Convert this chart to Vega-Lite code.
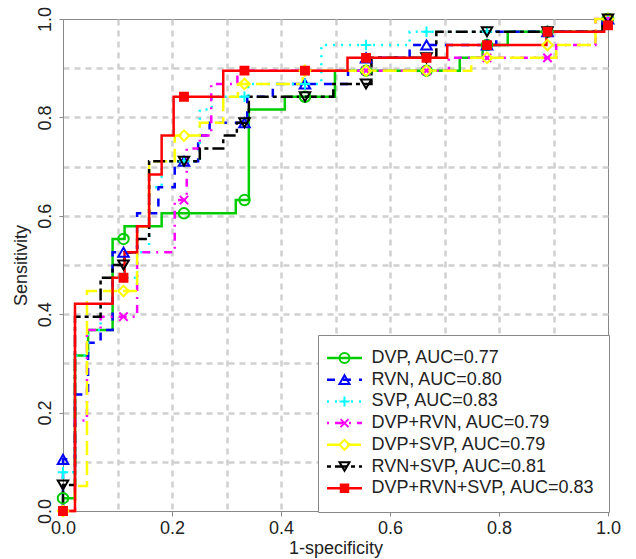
{
  "$schema": "https://vega.github.io/schema/vega-lite/v6.json",
  "width": 545,
  "height": 492,
  "autosize": {"type": "none"},
  "padding": {"left": 63, "top": 19, "right": 28, "bottom": 48},
  "background": "white",
  "config": {
    "view": {"stroke": "#888888", "strokeWidth": 1},
    "font": "Liberation Sans",
    "axis": {
      "labelFont": "Liberation Sans", "labelFontSize": 18, "labelColor": "#222222",
      "titleFont": "Liberation Sans", "titleFontSize": 18, "titleFontWeight": "normal", "titleColor": "#222222",
      "domainColor": "#888888", "tickColor": "#888888", "gridColor": "#d0d0d0", "gridDash": [6, 5], "gridWidth": 2.5,
      "labelOverlap": false, "labelFlush": false
    }
  },
  "datasets": {
    "curves": [
      {"series": "DVP, AUC=0.77", "i": 0, "x": 0, "y": 0},
      {"series": "DVP, AUC=0.77", "i": 1, "x": 0, "y": 0.026},
      {"series": "DVP, AUC=0.77", "i": 2, "x": 0.022, "y": 0.026},
      {"series": "DVP, AUC=0.77", "i": 3, "x": 0.022, "y": 0.316},
      {"series": "DVP, AUC=0.77", "i": 4, "x": 0.046, "y": 0.316},
      {"series": "DVP, AUC=0.77", "i": 5, "x": 0.046, "y": 0.368},
      {"series": "DVP, AUC=0.77", "i": 6, "x": 0.091, "y": 0.368},
      {"series": "DVP, AUC=0.77", "i": 7, "x": 0.091, "y": 0.553},
      {"series": "DVP, AUC=0.77", "i": 8, "x": 0.113, "y": 0.553},
      {"series": "DVP, AUC=0.77", "i": 9, "x": 0.113, "y": 0.579},
      {"series": "DVP, AUC=0.77", "i": 10, "x": 0.181, "y": 0.579},
      {"series": "DVP, AUC=0.77", "i": 11, "x": 0.181, "y": 0.605},
      {"series": "DVP, AUC=0.77", "i": 12, "x": 0.317, "y": 0.605},
      {"series": "DVP, AUC=0.77", "i": 13, "x": 0.317, "y": 0.632},
      {"series": "DVP, AUC=0.77", "i": 14, "x": 0.341, "y": 0.632},
      {"series": "DVP, AUC=0.77", "i": 15, "x": 0.341, "y": 0.816},
      {"series": "DVP, AUC=0.77", "i": 16, "x": 0.407, "y": 0.816},
      {"series": "DVP, AUC=0.77", "i": 17, "x": 0.407, "y": 0.842},
      {"series": "DVP, AUC=0.77", "i": 18, "x": 0.499, "y": 0.842},
      {"series": "DVP, AUC=0.77", "i": 19, "x": 0.499, "y": 0.895},
      {"series": "DVP, AUC=0.77", "i": 20, "x": 0.728, "y": 0.895},
      {"series": "DVP, AUC=0.77", "i": 21, "x": 0.728, "y": 0.921},
      {"series": "DVP, AUC=0.77", "i": 22, "x": 0.77, "y": 0.921},
      {"series": "DVP, AUC=0.77", "i": 23, "x": 0.77, "y": 0.947},
      {"series": "DVP, AUC=0.77", "i": 24, "x": 0.816, "y": 0.947},
      {"series": "DVP, AUC=0.77", "i": 25, "x": 0.816, "y": 0.974},
      {"series": "DVP, AUC=0.77", "i": 26, "x": 0.99, "y": 0.974},
      {"series": "DVP, AUC=0.77", "i": 27, "x": 0.99, "y": 1},
      {"series": "DVP, AUC=0.77", "i": 28, "x": 1, "y": 1},

      {"series": "RVN, AUC=0.80", "i": 0, "x": 0, "y": 0},
      {"series": "RVN, AUC=0.80", "i": 1, "x": 0, "y": 0.105},
      {"series": "RVN, AUC=0.80", "i": 2, "x": 0.022, "y": 0.105},
      {"series": "RVN, AUC=0.80", "i": 3, "x": 0.022, "y": 0.237},
      {"series": "RVN, AUC=0.80", "i": 4, "x": 0.046, "y": 0.237},
      {"series": "RVN, AUC=0.80", "i": 5, "x": 0.046, "y": 0.342},
      {"series": "RVN, AUC=0.80", "i": 6, "x": 0.069, "y": 0.342},
      {"series": "RVN, AUC=0.80", "i": 7, "x": 0.069, "y": 0.368},
      {"series": "RVN, AUC=0.80", "i": 8, "x": 0.091, "y": 0.368},
      {"series": "RVN, AUC=0.80", "i": 9, "x": 0.091, "y": 0.526},
      {"series": "RVN, AUC=0.80", "i": 10, "x": 0.136, "y": 0.526},
      {"series": "RVN, AUC=0.80", "i": 11, "x": 0.136, "y": 0.605},
      {"series": "RVN, AUC=0.80", "i": 12, "x": 0.175, "y": 0.605},
      {"series": "RVN, AUC=0.80", "i": 13, "x": 0.175, "y": 0.658},
      {"series": "RVN, AUC=0.80", "i": 14, "x": 0.205, "y": 0.658},
      {"series": "RVN, AUC=0.80", "i": 15, "x": 0.205, "y": 0.711},
      {"series": "RVN, AUC=0.80", "i": 16, "x": 0.248, "y": 0.711},
      {"series": "RVN, AUC=0.80", "i": 17, "x": 0.248, "y": 0.763},
      {"series": "RVN, AUC=0.80", "i": 18, "x": 0.269, "y": 0.763},
      {"series": "RVN, AUC=0.80", "i": 19, "x": 0.269, "y": 0.789},
      {"series": "RVN, AUC=0.80", "i": 20, "x": 0.338, "y": 0.789},
      {"series": "RVN, AUC=0.80", "i": 21, "x": 0.338, "y": 0.842},
      {"series": "RVN, AUC=0.80", "i": 22, "x": 0.385, "y": 0.842},
      {"series": "RVN, AUC=0.80", "i": 23, "x": 0.385, "y": 0.868},
      {"series": "RVN, AUC=0.80", "i": 24, "x": 0.523, "y": 0.868},
      {"series": "RVN, AUC=0.80", "i": 25, "x": 0.523, "y": 0.895},
      {"series": "RVN, AUC=0.80", "i": 26, "x": 0.55, "y": 0.895},
      {"series": "RVN, AUC=0.80", "i": 27, "x": 0.55, "y": 0.921},
      {"series": "RVN, AUC=0.80", "i": 28, "x": 0.636, "y": 0.921},
      {"series": "RVN, AUC=0.80", "i": 29, "x": 0.636, "y": 0.947},
      {"series": "RVN, AUC=0.80", "i": 30, "x": 0.795, "y": 0.947},
      {"series": "RVN, AUC=0.80", "i": 31, "x": 0.795, "y": 0.974},
      {"series": "RVN, AUC=0.80", "i": 32, "x": 0.99, "y": 0.974},
      {"series": "RVN, AUC=0.80", "i": 33, "x": 0.99, "y": 1},
      {"series": "RVN, AUC=0.80", "i": 34, "x": 1, "y": 1},

      {"series": "SVP, AUC=0.83", "i": 0, "x": 0, "y": 0},
      {"series": "SVP, AUC=0.83", "i": 1, "x": 0, "y": 0.079},
      {"series": "SVP, AUC=0.83", "i": 2, "x": 0.022, "y": 0.079},
      {"series": "SVP, AUC=0.83", "i": 3, "x": 0.022, "y": 0.316},
      {"series": "SVP, AUC=0.83", "i": 4, "x": 0.046, "y": 0.316},
      {"series": "SVP, AUC=0.83", "i": 5, "x": 0.046, "y": 0.368},
      {"series": "SVP, AUC=0.83", "i": 6, "x": 0.069, "y": 0.368},
      {"series": "SVP, AUC=0.83", "i": 7, "x": 0.069, "y": 0.421},
      {"series": "SVP, AUC=0.83", "i": 8, "x": 0.091, "y": 0.421},
      {"series": "SVP, AUC=0.83", "i": 9, "x": 0.091, "y": 0.474},
      {"series": "SVP, AUC=0.83", "i": 10, "x": 0.136, "y": 0.474},
      {"series": "SVP, AUC=0.83", "i": 11, "x": 0.136, "y": 0.526},
      {"series": "SVP, AUC=0.83", "i": 12, "x": 0.158, "y": 0.526},
      {"series": "SVP, AUC=0.83", "i": 13, "x": 0.158, "y": 0.658},
      {"series": "SVP, AUC=0.83", "i": 14, "x": 0.181, "y": 0.658},
      {"series": "SVP, AUC=0.83", "i": 15, "x": 0.181, "y": 0.711},
      {"series": "SVP, AUC=0.83", "i": 16, "x": 0.251, "y": 0.711},
      {"series": "SVP, AUC=0.83", "i": 17, "x": 0.251, "y": 0.816},
      {"series": "SVP, AUC=0.83", "i": 18, "x": 0.273, "y": 0.816},
      {"series": "SVP, AUC=0.83", "i": 19, "x": 0.273, "y": 0.842},
      {"series": "SVP, AUC=0.83", "i": 20, "x": 0.34, "y": 0.842},
      {"series": "SVP, AUC=0.83", "i": 21, "x": 0.34, "y": 0.868},
      {"series": "SVP, AUC=0.83", "i": 22, "x": 0.474, "y": 0.868},
      {"series": "SVP, AUC=0.83", "i": 23, "x": 0.474, "y": 0.947},
      {"series": "SVP, AUC=0.83", "i": 24, "x": 0.636, "y": 0.947},
      {"series": "SVP, AUC=0.83", "i": 25, "x": 0.636, "y": 0.974},
      {"series": "SVP, AUC=0.83", "i": 26, "x": 0.99, "y": 0.974},
      {"series": "SVP, AUC=0.83", "i": 27, "x": 0.99, "y": 1},
      {"series": "SVP, AUC=0.83", "i": 28, "x": 1, "y": 1},

      {"series": "DVP+RVN, AUC=0.79", "i": 0, "x": 0, "y": 0},
      {"series": "DVP+RVN, AUC=0.79", "i": 1, "x": 0.022, "y": 0},
      {"series": "DVP+RVN, AUC=0.79", "i": 2, "x": 0.022, "y": 0.184},
      {"series": "DVP+RVN, AUC=0.79", "i": 3, "x": 0.044, "y": 0.184},
      {"series": "DVP+RVN, AUC=0.79", "i": 4, "x": 0.044, "y": 0.368},
      {"series": "DVP+RVN, AUC=0.79", "i": 5, "x": 0.069, "y": 0.368},
      {"series": "DVP+RVN, AUC=0.79", "i": 6, "x": 0.069, "y": 0.395},
      {"series": "DVP+RVN, AUC=0.79", "i": 7, "x": 0.136, "y": 0.395},
      {"series": "DVP+RVN, AUC=0.79", "i": 8, "x": 0.136, "y": 0.526},
      {"series": "DVP+RVN, AUC=0.79", "i": 9, "x": 0.205, "y": 0.526},
      {"series": "DVP+RVN, AUC=0.79", "i": 10, "x": 0.205, "y": 0.632},
      {"series": "DVP+RVN, AUC=0.79", "i": 11, "x": 0.227, "y": 0.632},
      {"series": "DVP+RVN, AUC=0.79", "i": 12, "x": 0.227, "y": 0.737},
      {"series": "DVP+RVN, AUC=0.79", "i": 13, "x": 0.251, "y": 0.737},
      {"series": "DVP+RVN, AUC=0.79", "i": 14, "x": 0.251, "y": 0.763},
      {"series": "DVP+RVN, AUC=0.79", "i": 15, "x": 0.272, "y": 0.763},
      {"series": "DVP+RVN, AUC=0.79", "i": 16, "x": 0.272, "y": 0.868},
      {"series": "DVP+RVN, AUC=0.79", "i": 17, "x": 0.32, "y": 0.868},
      {"series": "DVP+RVN, AUC=0.79", "i": 18, "x": 0.32, "y": 0.895},
      {"series": "DVP+RVN, AUC=0.79", "i": 19, "x": 0.708, "y": 0.895},
      {"series": "DVP+RVN, AUC=0.79", "i": 20, "x": 0.708, "y": 0.921},
      {"series": "DVP+RVN, AUC=0.79", "i": 21, "x": 0.905, "y": 0.921},
      {"series": "DVP+RVN, AUC=0.79", "i": 22, "x": 0.905, "y": 0.947},
      {"series": "DVP+RVN, AUC=0.79", "i": 23, "x": 0.977, "y": 0.947},
      {"series": "DVP+RVN, AUC=0.79", "i": 24, "x": 0.977, "y": 1},
      {"series": "DVP+RVN, AUC=0.79", "i": 25, "x": 1, "y": 1},

      {"series": "DVP+SVP, AUC=0.79", "i": 0, "x": 0, "y": 0},
      {"series": "DVP+SVP, AUC=0.79", "i": 1, "x": 0.022, "y": 0},
      {"series": "DVP+SVP, AUC=0.79", "i": 2, "x": 0.022, "y": 0.051},
      {"series": "DVP+SVP, AUC=0.79", "i": 3, "x": 0.044, "y": 0.051},
      {"series": "DVP+SVP, AUC=0.79", "i": 4, "x": 0.044, "y": 0.447},
      {"series": "DVP+SVP, AUC=0.79", "i": 5, "x": 0.136, "y": 0.447},
      {"series": "DVP+SVP, AUC=0.79", "i": 6, "x": 0.136, "y": 0.579},
      {"series": "DVP+SVP, AUC=0.79", "i": 7, "x": 0.158, "y": 0.579},
      {"series": "DVP+SVP, AUC=0.79", "i": 8, "x": 0.158, "y": 0.711},
      {"series": "DVP+SVP, AUC=0.79", "i": 9, "x": 0.205, "y": 0.711},
      {"series": "DVP+SVP, AUC=0.79", "i": 10, "x": 0.205, "y": 0.763},
      {"series": "DVP+SVP, AUC=0.79", "i": 11, "x": 0.251, "y": 0.763},
      {"series": "DVP+SVP, AUC=0.79", "i": 12, "x": 0.251, "y": 0.789},
      {"series": "DVP+SVP, AUC=0.79", "i": 13, "x": 0.294, "y": 0.789},
      {"series": "DVP+SVP, AUC=0.79", "i": 14, "x": 0.294, "y": 0.842},
      {"series": "DVP+SVP, AUC=0.79", "i": 15, "x": 0.321, "y": 0.842},
      {"series": "DVP+SVP, AUC=0.79", "i": 16, "x": 0.321, "y": 0.868},
      {"series": "DVP+SVP, AUC=0.79", "i": 17, "x": 0.44, "y": 0.868},
      {"series": "DVP+SVP, AUC=0.79", "i": 18, "x": 0.44, "y": 0.895},
      {"series": "DVP+SVP, AUC=0.79", "i": 19, "x": 0.749, "y": 0.895},
      {"series": "DVP+SVP, AUC=0.79", "i": 20, "x": 0.749, "y": 0.921},
      {"series": "DVP+SVP, AUC=0.79", "i": 21, "x": 0.905, "y": 0.921},
      {"series": "DVP+SVP, AUC=0.79", "i": 22, "x": 0.905, "y": 0.947},
      {"series": "DVP+SVP, AUC=0.79", "i": 23, "x": 0.977, "y": 0.947},
      {"series": "DVP+SVP, AUC=0.79", "i": 24, "x": 0.977, "y": 1},
      {"series": "DVP+SVP, AUC=0.79", "i": 25, "x": 1, "y": 1},

      {"series": "RVN+SVP, AUC=0.81", "i": 0, "x": 0, "y": 0},
      {"series": "RVN+SVP, AUC=0.81", "i": 1, "x": 0, "y": 0.053},
      {"series": "RVN+SVP, AUC=0.81", "i": 2, "x": 0.022, "y": 0.053},
      {"series": "RVN+SVP, AUC=0.81", "i": 3, "x": 0.022, "y": 0.395},
      {"series": "RVN+SVP, AUC=0.81", "i": 4, "x": 0.069, "y": 0.395},
      {"series": "RVN+SVP, AUC=0.81", "i": 5, "x": 0.069, "y": 0.474},
      {"series": "RVN+SVP, AUC=0.81", "i": 6, "x": 0.091, "y": 0.474},
      {"series": "RVN+SVP, AUC=0.81", "i": 7, "x": 0.091, "y": 0.5},
      {"series": "RVN+SVP, AUC=0.81", "i": 8, "x": 0.113, "y": 0.5},
      {"series": "RVN+SVP, AUC=0.81", "i": 9, "x": 0.113, "y": 0.526},
      {"series": "RVN+SVP, AUC=0.81", "i": 10, "x": 0.136, "y": 0.526},
      {"series": "RVN+SVP, AUC=0.81", "i": 11, "x": 0.136, "y": 0.553},
      {"series": "RVN+SVP, AUC=0.81", "i": 12, "x": 0.158, "y": 0.553},
      {"series": "RVN+SVP, AUC=0.81", "i": 13, "x": 0.158, "y": 0.711},
      {"series": "RVN+SVP, AUC=0.81", "i": 14, "x": 0.251, "y": 0.711},
      {"series": "RVN+SVP, AUC=0.81", "i": 15, "x": 0.251, "y": 0.737},
      {"series": "RVN+SVP, AUC=0.81", "i": 16, "x": 0.294, "y": 0.737},
      {"series": "RVN+SVP, AUC=0.81", "i": 17, "x": 0.294, "y": 0.763},
      {"series": "RVN+SVP, AUC=0.81", "i": 18, "x": 0.319, "y": 0.763},
      {"series": "RVN+SVP, AUC=0.81", "i": 19, "x": 0.319, "y": 0.789},
      {"series": "RVN+SVP, AUC=0.81", "i": 20, "x": 0.341, "y": 0.789},
      {"series": "RVN+SVP, AUC=0.81", "i": 21, "x": 0.341, "y": 0.842},
      {"series": "RVN+SVP, AUC=0.81", "i": 22, "x": 0.496, "y": 0.842},
      {"series": "RVN+SVP, AUC=0.81", "i": 23, "x": 0.496, "y": 0.868},
      {"series": "RVN+SVP, AUC=0.81", "i": 24, "x": 0.566, "y": 0.868},
      {"series": "RVN+SVP, AUC=0.81", "i": 25, "x": 0.566, "y": 0.921},
      {"series": "RVN+SVP, AUC=0.81", "i": 26, "x": 0.685, "y": 0.921},
      {"series": "RVN+SVP, AUC=0.81", "i": 27, "x": 0.685, "y": 0.974},
      {"series": "RVN+SVP, AUC=0.81", "i": 28, "x": 0.99, "y": 0.974},
      {"series": "RVN+SVP, AUC=0.81", "i": 29, "x": 0.99, "y": 1},
      {"series": "RVN+SVP, AUC=0.81", "i": 30, "x": 1, "y": 1},

      {"series": "DVP+RVN+SVP, AUC=0.83", "i": 0, "x": 0, "y": 0},
      {"series": "DVP+RVN+SVP, AUC=0.83", "i": 1, "x": 0.022, "y": 0},
      {"series": "DVP+RVN+SVP, AUC=0.83", "i": 2, "x": 0.022, "y": 0.421},
      {"series": "DVP+RVN+SVP, AUC=0.83", "i": 3, "x": 0.091, "y": 0.421},
      {"series": "DVP+RVN+SVP, AUC=0.83", "i": 4, "x": 0.091, "y": 0.474},
      {"series": "DVP+RVN+SVP, AUC=0.83", "i": 5, "x": 0.113, "y": 0.474},
      {"series": "DVP+RVN+SVP, AUC=0.83", "i": 6, "x": 0.113, "y": 0.526},
      {"series": "DVP+RVN+SVP, AUC=0.83", "i": 7, "x": 0.136, "y": 0.526},
      {"series": "DVP+RVN+SVP, AUC=0.83", "i": 8, "x": 0.136, "y": 0.579},
      {"series": "DVP+RVN+SVP, AUC=0.83", "i": 9, "x": 0.158, "y": 0.579},
      {"series": "DVP+RVN+SVP, AUC=0.83", "i": 10, "x": 0.158, "y": 0.684},
      {"series": "DVP+RVN+SVP, AUC=0.83", "i": 11, "x": 0.181, "y": 0.684},
      {"series": "DVP+RVN+SVP, AUC=0.83", "i": 12, "x": 0.181, "y": 0.763},
      {"series": "DVP+RVN+SVP, AUC=0.83", "i": 13, "x": 0.203, "y": 0.763},
      {"series": "DVP+RVN+SVP, AUC=0.83", "i": 14, "x": 0.203, "y": 0.842},
      {"series": "DVP+RVN+SVP, AUC=0.83", "i": 15, "x": 0.294, "y": 0.842},
      {"series": "DVP+RVN+SVP, AUC=0.83", "i": 16, "x": 0.294, "y": 0.895},
      {"series": "DVP+RVN+SVP, AUC=0.83", "i": 17, "x": 0.522, "y": 0.895},
      {"series": "DVP+RVN+SVP, AUC=0.83", "i": 18, "x": 0.522, "y": 0.921},
      {"series": "DVP+RVN+SVP, AUC=0.83", "i": 19, "x": 0.705, "y": 0.921},
      {"series": "DVP+RVN+SVP, AUC=0.83", "i": 20, "x": 0.705, "y": 0.947},
      {"series": "DVP+RVN+SVP, AUC=0.83", "i": 21, "x": 0.887, "y": 0.947},
      {"series": "DVP+RVN+SVP, AUC=0.83", "i": 22, "x": 0.887, "y": 0.974},
      {"series": "DVP+RVN+SVP, AUC=0.83", "i": 23, "x": 0.993, "y": 0.974},
      {"series": "DVP+RVN+SVP, AUC=0.83", "i": 24, "x": 0.993, "y": 1},
      {"series": "DVP+RVN+SVP, AUC=0.83", "i": 25, "x": 1, "y": 1}
    ],
    "marks": [
      {"curve": "DVP, AUC=0.77", "x": 0, "y": 0.026},
      {"curve": "DVP, AUC=0.77", "x": 0.111, "y": 0.553},
      {"curve": "DVP, AUC=0.77", "x": 0.222, "y": 0.605},
      {"curve": "DVP, AUC=0.77", "x": 0.333, "y": 0.632},
      {"curve": "DVP, AUC=0.77", "x": 0.444, "y": 0.842},
      {"curve": "DVP, AUC=0.77", "x": 0.556, "y": 0.895},
      {"curve": "DVP, AUC=0.77", "x": 0.667, "y": 0.895},
      {"curve": "DVP, AUC=0.77", "x": 0.778, "y": 0.947},
      {"curve": "DVP, AUC=0.77", "x": 0.889, "y": 0.974},
      {"curve": "DVP, AUC=0.77", "x": 1, "y": 1},
      {"curve": "RVN, AUC=0.80", "x": 0, "y": 0.105},
      {"curve": "RVN, AUC=0.80", "x": 0.111, "y": 0.526},
      {"curve": "RVN, AUC=0.80", "x": 0.222, "y": 0.711},
      {"curve": "RVN, AUC=0.80", "x": 0.333, "y": 0.789},
      {"curve": "RVN, AUC=0.80", "x": 0.444, "y": 0.868},
      {"curve": "RVN, AUC=0.80", "x": 0.556, "y": 0.921},
      {"curve": "RVN, AUC=0.80", "x": 0.667, "y": 0.947},
      {"curve": "RVN, AUC=0.80", "x": 0.778, "y": 0.947},
      {"curve": "RVN, AUC=0.80", "x": 0.889, "y": 0.974},
      {"curve": "RVN, AUC=0.80", "x": 1, "y": 1},
      {"curve": "SVP, AUC=0.83", "x": 0, "y": 0.079},
      {"curve": "SVP, AUC=0.83", "x": 0.111, "y": 0.474},
      {"curve": "SVP, AUC=0.83", "x": 0.222, "y": 0.711},
      {"curve": "SVP, AUC=0.83", "x": 0.333, "y": 0.842},
      {"curve": "SVP, AUC=0.83", "x": 0.444, "y": 0.868},
      {"curve": "SVP, AUC=0.83", "x": 0.556, "y": 0.947},
      {"curve": "SVP, AUC=0.83", "x": 0.667, "y": 0.974},
      {"curve": "SVP, AUC=0.83", "x": 0.778, "y": 0.974},
      {"curve": "SVP, AUC=0.83", "x": 0.889, "y": 0.974},
      {"curve": "SVP, AUC=0.83", "x": 1, "y": 1},
      {"curve": "DVP+RVN, AUC=0.79", "x": 0, "y": 0},
      {"curve": "DVP+RVN, AUC=0.79", "x": 0.111, "y": 0.395},
      {"curve": "DVP+RVN, AUC=0.79", "x": 0.222, "y": 0.632},
      {"curve": "DVP+RVN, AUC=0.79", "x": 0.333, "y": 0.895},
      {"curve": "DVP+RVN, AUC=0.79", "x": 0.444, "y": 0.895},
      {"curve": "DVP+RVN, AUC=0.79", "x": 0.556, "y": 0.895},
      {"curve": "DVP+RVN, AUC=0.79", "x": 0.667, "y": 0.895},
      {"curve": "DVP+RVN, AUC=0.79", "x": 0.778, "y": 0.921},
      {"curve": "DVP+RVN, AUC=0.79", "x": 0.889, "y": 0.921},
      {"curve": "DVP+RVN, AUC=0.79", "x": 1, "y": 1},
      {"curve": "DVP+SVP, AUC=0.79", "x": 0, "y": 0},
      {"curve": "DVP+SVP, AUC=0.79", "x": 0.111, "y": 0.447},
      {"curve": "DVP+SVP, AUC=0.79", "x": 0.222, "y": 0.763},
      {"curve": "DVP+SVP, AUC=0.79", "x": 0.333, "y": 0.868},
      {"curve": "DVP+SVP, AUC=0.79", "x": 0.444, "y": 0.895},
      {"curve": "DVP+SVP, AUC=0.79", "x": 0.556, "y": 0.895},
      {"curve": "DVP+SVP, AUC=0.79", "x": 0.667, "y": 0.895},
      {"curve": "DVP+SVP, AUC=0.79", "x": 0.778, "y": 0.921},
      {"curve": "DVP+SVP, AUC=0.79", "x": 0.889, "y": 0.947},
      {"curve": "DVP+SVP, AUC=0.79", "x": 1, "y": 1},
      {"curve": "RVN+SVP, AUC=0.81", "x": 0, "y": 0.053},
      {"curve": "RVN+SVP, AUC=0.81", "x": 0.111, "y": 0.5},
      {"curve": "RVN+SVP, AUC=0.81", "x": 0.222, "y": 0.711},
      {"curve": "RVN+SVP, AUC=0.81", "x": 0.333, "y": 0.789},
      {"curve": "RVN+SVP, AUC=0.81", "x": 0.444, "y": 0.842},
      {"curve": "RVN+SVP, AUC=0.81", "x": 0.556, "y": 0.868},
      {"curve": "RVN+SVP, AUC=0.81", "x": 0.667, "y": 0.921},
      {"curve": "RVN+SVP, AUC=0.81", "x": 0.778, "y": 0.974},
      {"curve": "RVN+SVP, AUC=0.81", "x": 0.889, "y": 0.974},
      {"curve": "RVN+SVP, AUC=0.81", "x": 1, "y": 1},
      {"curve": "DVP+RVN+SVP, AUC=0.83", "x": 0, "y": 0},
      {"curve": "DVP+RVN+SVP, AUC=0.83", "x": 0.111, "y": 0.474},
      {"curve": "DVP+RVN+SVP, AUC=0.83", "x": 0.222, "y": 0.842},
      {"curve": "DVP+RVN+SVP, AUC=0.83", "x": 0.333, "y": 0.895},
      {"curve": "DVP+RVN+SVP, AUC=0.83", "x": 0.444, "y": 0.895},
      {"curve": "DVP+RVN+SVP, AUC=0.83", "x": 0.556, "y": 0.921},
      {"curve": "DVP+RVN+SVP, AUC=0.83", "x": 0.667, "y": 0.921},
      {"curve": "DVP+RVN+SVP, AUC=0.83", "x": 0.778, "y": 0.947},
      {"curve": "DVP+RVN+SVP, AUC=0.83", "x": 0.889, "y": 0.974},
      {"curve": "DVP+RVN+SVP, AUC=0.83", "x": 1, "y": 0.987}
    ]
  },
  "layer": [
    {
      "data": {"name": "curves"},
      "mark": {"type": "line", "strokeWidth": 2.5, "strokeCap": "butt", "strokeJoin": "miter"},
      "encoding": {
        "x": {
          "field": "x", "type": "quantitative",
          "scale": {"domain": [0, 1], "nice": false, "zero": false},
          "axis": {
            "title": "1-specificity",
            "values": [0, 0.1, 0.2, 0.3, 0.4, 0.5, 0.6, 0.7, 0.8, 0.9, 1],
            "labelExpr": "round(datum.value*10)%2==0 ? format(datum.value,'.1f') : ''",
            "tickSize": 5,
            "tickOpacity": {"condition": {"test": "round(datum.value*10)%2==0", "value": 1}, "value": 0},
            "gridOpacity": {"condition": {"test": "datum.value==0 || datum.value==1", "value": 0}, "value": 1},
            "labelPadding": 3,
            "titlePadding": 2
          }
        },
        "y": {
          "field": "y", "type": "quantitative",
          "scale": {"domain": [0, 1], "nice": false, "zero": false},
          "axis": {
            "title": "Sensitivity",
            "values": [0, 0.1, 0.2, 0.3, 0.4, 0.5, 0.6, 0.7, 0.8, 0.9, 1],
            "labelExpr": "round(datum.value*10)%2==0 ? format(datum.value,'.1f') : ''",
            "labelAngle": -90,
            "labelAlign": "center",
            "labelBaseline": "alphabetic",
            "tickSize": 4,
            "tickOpacity": {"condition": {"test": "round(datum.value*10)%2==0", "value": 1}, "value": 0},
            "gridOpacity": {"condition": {"test": "datum.value==0 || datum.value==1", "value": 0}, "value": 1},
            "labelPadding": 9,
            "titlePadding": 6
          }
        },
        "order": {"field": "i", "type": "quantitative"},
        "color": {
          "field": "series", "type": "nominal",
          "scale": {
            "domain": ["DVP, AUC=0.77", "RVN, AUC=0.80", "SVP, AUC=0.83", "DVP+RVN, AUC=0.79", "DVP+SVP, AUC=0.79", "RVN+SVP, AUC=0.81", "DVP+RVN+SVP, AUC=0.83"],
            "range": ["#00cd00", "#0000ff", "#00ffff", "#ff00ff", "#ffff00", "#000000", "#ff0000"]
          },
          "legend": {
            "orient": "none", "legendX": 255, "legendY": 316, "title": null,
            "padding": 14, "strokeColor": "#888888", "fillColor": "#ffffff",
            "symbolType": "M-3.5,0L3.5,0", "symbolSize": 100, "symbolStrokeWidth": 2.5, "symbolOffset": 3.5,
            "labelFont": "Liberation Sans", "labelFontSize": 18, "labelColor": "#222222", "labelOffset": 18, "labelLimit": 400,
            "rowPadding": 3.7, "zindex": 1
          }
        },
        "strokeDash": {
          "field": "series", "type": "nominal",
          "scale": {
            "domain": ["DVP, AUC=0.77", "RVN, AUC=0.80", "SVP, AUC=0.83", "DVP+RVN, AUC=0.79", "DVP+SVP, AUC=0.79", "RVN+SVP, AUC=0.81", "DVP+RVN+SVP, AUC=0.83"],
            "range": [[1, 0], [8, 8], [2, 6], [2, 6, 8, 6], [14, 6], [4, 4, 12, 4], [1, 0]]
          },
          "legend": {
            "orient": "none", "legendX": 255, "legendY": 316, "title": null,
            "padding": 14, "strokeColor": "#888888", "fillColor": "#ffffff",
            "symbolType": "M-3.5,0L3.5,0", "symbolSize": 100, "symbolStrokeWidth": 2.5, "symbolOffset": 3.5,
            "labelFont": "Liberation Sans", "labelFontSize": 18, "labelColor": "#222222", "labelOffset": 18, "labelLimit": 400,
            "rowPadding": 3.7, "zindex": 1
          }
        }
      }
    },
    {
      "data": {"name": "marks"},
      "mark": {"type": "point", "size": 110, "strokeWidth": 2, "opacity": 1},
      "encoding": {
        "x": {"field": "x", "type": "quantitative"},
        "y": {"field": "y", "type": "quantitative"},
        "shape": {
          "field": "curve", "type": "nominal", "sort": null,
          "scale": {"range": ["circle", "triangle-up", "M-1,0L1,0M0,-1L0,1", "M-0.8,-0.8L0.8,0.8M-0.8,0.8L0.8,-0.8", "diamond", "triangle-down", "M-0.75,-0.75L0.75,-0.75L0.75,0.75L-0.75,0.75Z"]},
          "legend": {
            "orient": "none", "legendX": 255, "legendY": 316, "title": null,
            "padding": 14, "strokeColor": "transparent",
            "symbolSize": 100, "symbolStrokeWidth": 2, "symbolOffset": 3.5,
            "labelFont": "Liberation Sans", "labelFontSize": 18, "labelOpacity": 0, "labelOffset": 18, "labelLimit": 400,
            "rowPadding": 3.7, "zindex": 2,
            "encode": {"symbols": {"update": {"stroke": {"scale": "stroke", "field": "value"}, "fill": {"scale": "fill", "field": "value"}, "opacity": {"value": 1}}}}
          }
        },
        "stroke": {
          "field": "curve", "type": "nominal", "sort": null,
          "scale": {"range": ["#00cd00", "#0000ff", "#00ffff", "#ff00ff", "#ffff00", "#000000", "#ff0000"]},
          "legend": null
        },
        "fill": {
          "field": "curve", "type": "nominal", "sort": null,
          "scale": {"range": ["transparent", "transparent", "transparent", "transparent", "transparent", "transparent", "#ff0000"]},
          "legend": null
        }
      }
    }
  ]
}
